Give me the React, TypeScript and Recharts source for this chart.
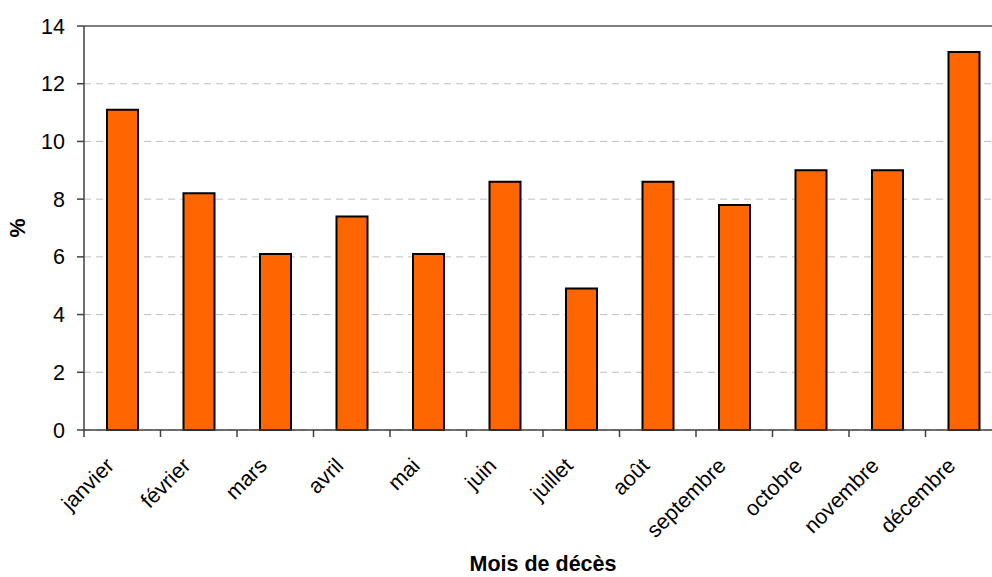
import React from 'react';
import { BarChart, Bar, XAxis, YAxis, CartesianGrid, ReferenceLine } from 'recharts';

const months = ['janvier', 'février', 'mars', 'avril', 'mai', 'juin', 'juillet', 'août', 'septembre', 'octobre', 'novembre', 'décembre'];
const percents = [11.1, 8.2, 6.1, 7.4, 6.1, 8.6, 4.9, 8.6, 7.8, 9.0, 9.0, 13.1];
const yTicks = [0, 2, 4, 6, 8, 10, 12, 14];

const data = months.map((m, i) => ({ month: m, value: percents[i] }));

const FONT = '"Liberation Sans", Arial, sans-serif';
const FS = 21.5;
const CHART_W = 1012;
const CHART_H = 577;
const PLOT_LEFT = 84;
const PLOT_RIGHT = 1002;
const BAND = (PLOT_RIGHT - PLOT_LEFT) / months.length;

const XTick = (props: any) => {
  const { x, y, payload } = props;
  const bx = x - BAND / 2;
  const ax = x - 7;
  const ay = y + 37;
  return (
    <g>
      <line x1={bx} y1={y} x2={bx} y2={y + 7} stroke="#404040" strokeWidth={1.5} />
      <text
        x={ax}
        y={ay}
        textAnchor="end"
        fontFamily={FONT}
        fontSize={FS}
        fill="#000"
        transform={`rotate(-45, ${ax}, ${ay})`}
      >
        {payload.value}
      </text>
    </g>
  );
};

const YLabel = (props: any) => {
  const vb = props.viewBox || {};
  const cy = vb.y + vb.height / 2;
  return (
    <text
      x={18}
      y={cy}
      textAnchor="middle"
      dominantBaseline="central"
      fontFamily={FONT}
      fontSize={FS}
      fontWeight="bold"
      fill="#000"
      transform={`rotate(-90, 18, ${cy})`}
    >
      %
    </text>
  );
};

const XLabel = (props: any) => {
  const vb = props.viewBox || {};
  const cx = vb.x + vb.width / 2;
  return (
    <text x={cx} y={571} textAnchor="middle" fontFamily={FONT} fontSize={FS} fontWeight="bold" fill="#000">
      Mois de décès
    </text>
  );
};

export default function App() {
  return (
    <div style={{ position: 'absolute', left: 0, top: 0, width: 992, height: 577, overflow: 'hidden', background: '#fff' }}>
      <BarChart
        width={CHART_W}
        height={CHART_H}
        data={data}
        margin={{ top: 26, right: CHART_W - PLOT_RIGHT, bottom: 0, left: 0 }}
        barSize={31}
      >
        <CartesianGrid vertical={false} stroke="#c0c0c0" strokeDasharray="7 5" />
        <XAxis
          dataKey="month"
          height={147}
          interval={0}
          tickSize={0}
          tickMargin={0}
          tickLine={false}
          axisLine={{ stroke: '#404040', strokeWidth: 1.5 }}
          tick={<XTick />}
          label={<XLabel />}
        />
        <YAxis
          width={PLOT_LEFT}
          domain={[0, 14]}
          ticks={yTicks}
          interval={0}
          tickSize={7}
          tickMargin={12}
          tickLine={{ stroke: '#404040', strokeWidth: 1.5 }}
          axisLine={{ stroke: '#404040', strokeWidth: 1.5 }}
          tick={{ fontFamily: FONT, fontSize: FS, fill: '#000' }}
          label={<YLabel />}
        />
        <ReferenceLine y={14} stroke="#808080" strokeWidth={2} />
        <Bar dataKey="value" fill="#FF6600" stroke="#000" strokeWidth={2} isAnimationActive={false} />
      </BarChart>
    </div>
  );
}
